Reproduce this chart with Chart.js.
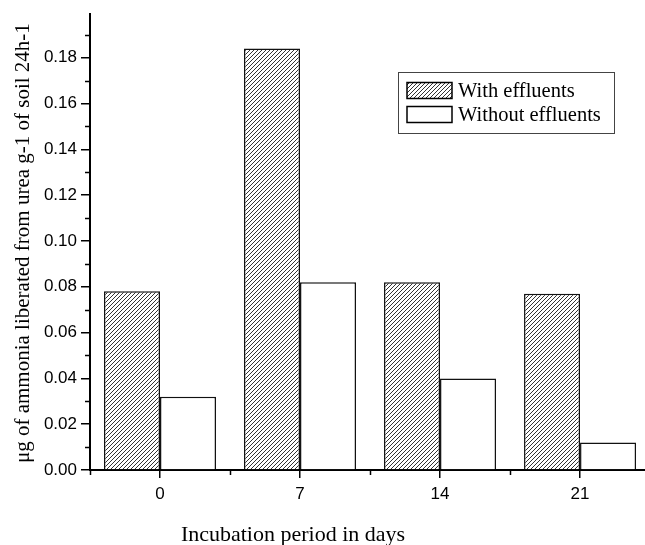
<!DOCTYPE html>
<html>
<head>
<meta charset="utf-8">
<script src="https://cdn.jsdelivr.net/npm/chart.js@4.4.1/dist/chart.umd.min.js"></script>
<style>
html,body{margin:0;padding:0;background:#fff;overflow:hidden;}
#wrap{position:relative;width:645px;height:545px;}
</style>
</head>
<body>
<div id="wrap"><canvas id="c" width="645" height="545"></canvas></div>
<script>
const days = ['0', '7', '14', '21'];
const withEffluents = [0.078, 0.184, 0.082, 0.077];
const withoutEffluents = [0.032, 0.082, 0.040, 0.012];
const seriesNames = ['With effluents', 'Without effluents'];
const yTitle = 'μg of ammonia liberated from urea g-1 of soil 24h-1';
const xTitle = 'Incubation period in days';

function makeHatch() {
  const c = document.createElement('canvas');
  c.width = 4; c.height = 4;
  const g = c.getContext('2d');
  g.fillStyle = '#fff';
  g.fillRect(0, 0, 4, 4);
  g.strokeStyle = '#333';
  g.lineWidth = 1;
  g.beginPath();
  g.moveTo(-1, 5); g.lineTo(5, -1);
  g.moveTo(-1, 1); g.lineTo(1, -1);
  g.moveTo(3, 5); g.lineTo(5, 3);
  g.stroke();
  return g.createPattern(c, 'repeat');
}
const hatch = makeHatch();

const minorTicks = {
  id: 'minorTicks',
  afterDraw(chart) {
    const ctx = chart.ctx;
    const xs = chart.scales.x, ys = chart.scales.y;
    const area = chart.chartArea;
    ctx.save();
    ctx.strokeStyle = '#000';
    ctx.lineWidth = 1.5;
    ctx.beginPath();
    for (let v = 0.01; v < ys.max; v += 0.02) {
      const py = Math.round(ys.getPixelForValue(v)) + 0.5;
      ctx.moveTo(area.left - 5, py); ctx.lineTo(area.left, py);
    }
    for (let v = -0.5; v < xs.max; v += 1) {
      const px = Math.round(xs.getPixelForValue(v)) + 0.5;
      ctx.moveTo(px, area.bottom); ctx.lineTo(px, area.bottom + 5);
    }
    ctx.stroke();

    // axis titles
    ctx.fillStyle = '#000';
    ctx.font = '22px "Liberation Serif"';
    ctx.textAlign = 'center';
    ctx.textBaseline = 'alphabetic';
    ctx.fillText(xTitle, 293, 541);
    ctx.save();
    ctx.translate(29, (area.top + area.bottom) / 2 + 1);
    ctx.rotate(-Math.PI / 2);
    ctx.font = '21px "Liberation Serif"';
    ctx.fillText(yTitle, 0, 0);
    ctx.restore();

    // legend
    const lx = 398, ly = 72, lw = 216, lh = 61;
    ctx.strokeStyle = '#444';
    ctx.lineWidth = 1;
    ctx.strokeRect(lx + 0.5, ly + 0.5, lw, lh);
    const rows = [90.5, 114.5];
    ctx.textAlign = 'left';
    ctx.font = '20.5px "Liberation Serif"';
    chart.data.datasets.forEach((ds, i) => {
      const cy = rows[i];
      ctx.fillStyle = ds.backgroundColor;
      ctx.fillRect(407, cy - 8, 45, 16);
      ctx.strokeStyle = '#000';
      ctx.lineWidth = 1.5;
      ctx.strokeRect(407, cy - 8, 45, 16);
      ctx.fillStyle = '#000';
      ctx.fillText(ds.label, 458, cy + 6);
    });
    ctx.restore();
  }
};

new Chart(document.getElementById('c'), {
  type: 'bar',
  data: {
    datasets: [
      {
        label: seriesNames[0],
        data: withEffluents.map((v, i) => ({x: i, y: v})),
        backgroundColor: hatch,
        borderColor: '#111',
        borderWidth: 1.5,
        categoryPercentage: 0.8,
        barPercentage: 1.0
      },
      {
        label: seriesNames[1],
        data: withoutEffluents.map((v, i) => ({x: i, y: v})),
        backgroundColor: '#fff',
        borderColor: '#111',
        borderWidth: 1.5,
        categoryPercentage: 0.8,
        barPercentage: 1.0
      }
    ]
  },
  options: {
    responsive: false,
    animation: false,
    layout: {padding: {top: 13, left: 0, right: 0, bottom: 0}},
    plugins: {legend: {display: false}, tooltip: {enabled: false}},
    scales: {
      x: {
        type: 'linear',
        offset: false,
        min: -0.5,
        max: 3.464,
        afterBuildTicks(scale) {
          scale.ticks = days.map((d, i) => ({value: i}));
        },
        afterFit(scale) { scale.height = 75; },
        grid: {display: true, offset: false, drawOnChartArea: false, tickLength: 8, color: '#000', lineWidth: 1.5},
        border: {display: true, color: '#000', width: 2},
        ticks: {
          padding: 6,
          color: '#000',
          font: {family: '"Liberation Sans"', size: 17},
          callback: (v) => days[v] !== undefined ? days[v] : ''
        }
      },
      y: {
        min: 0,
        max: 0.199,
        afterBuildTicks(scale) {
          const t = [];
          for (let i = 0; i <= 9; i++) t.push({value: i * 0.02});
          scale.ticks = t;
        },
        afterFit(scale) { scale.width = 90; },
        grid: {display: true, drawOnChartArea: false, tickLength: 9, color: '#000', lineWidth: 1.5},
        border: {display: true, color: '#000', width: 2},
        ticks: {
          padding: 4,
          color: '#000',
          font: {family: '"Liberation Sans"', size: 17},
          callback: (v) => v.toFixed(2)
        }
      }
    }
  },
  plugins: [minorTicks]
});
</script>
</body>
</html>
